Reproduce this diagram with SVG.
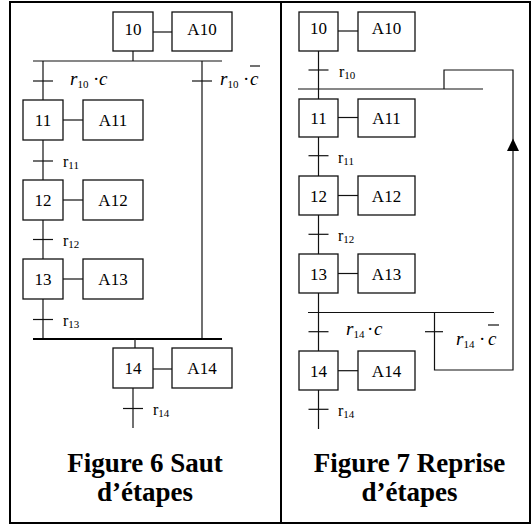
<svg xmlns="http://www.w3.org/2000/svg" width="532" height="525" viewBox="0 0 532 525">
<style>
  .frame{fill:none;stroke:#000;stroke-width:2}
  .box{fill:#fff;stroke:#111;stroke-width:1.3}
  .ln{fill:none;stroke:#111;stroke-width:1.2}
  .bar2{fill:none;stroke:#000;stroke-width:2.2}
  text{font-family:"Liberation Serif","Times New Roman",serif;fill:#000}
  .num{font-size:17px;text-anchor:middle}
  .lbl{font-size:16px}
  .sub{font-size:11px}
  .it{font-size:19px;font-style:italic}
  .cap{font-size:27px;font-weight:bold;text-anchor:middle}
</style>
<rect class="frame" x="10" y="2" width="520" height="521"/>
<line class="frame" x1="281" y1="2" x2="281" y2="523"/>

<!-- ========== Figure 6 ========== -->
<g id="connectors-fig6">
  <line class="ln" x1="153" y1="32" x2="172" y2="32"/>
  <line class="ln" x1="133" y1="51" x2="133" y2="61"/>
  <line class="ln" x1="33" y1="61" x2="222" y2="61"/>
  <line class="ln" x1="43" y1="61" x2="43" y2="100"/>
  <line class="ln" x1="33" y1="81" x2="53" y2="81"/>
  <line class="ln" x1="202" y1="61" x2="202" y2="339"/>
  <line class="ln" x1="192" y1="81" x2="212" y2="81"/>
  <line class="ln" x1="63" y1="120" x2="83" y2="120"/>
  <line class="ln" x1="43" y1="140" x2="43" y2="180"/>
  <line class="ln" x1="33" y1="161" x2="53" y2="161"/>
  <line class="ln" x1="63" y1="200" x2="83" y2="200"/>
  <line class="ln" x1="43" y1="220" x2="43" y2="259"/>
  <line class="ln" x1="33" y1="239.5" x2="53" y2="239.5"/>
  <line class="ln" x1="63" y1="279" x2="83" y2="279"/>
  <line class="ln" x1="43" y1="299" x2="43" y2="339"/>
  <line class="ln" x1="33" y1="319.5" x2="53" y2="319.5"/>
  <line class="bar2" x1="33" y1="339" x2="222" y2="339"/>
  <line class="ln" x1="135" y1="339" x2="135" y2="348"/>
  <line class="ln" x1="153" y1="369" x2="172" y2="369"/>
  <line class="ln" x1="133" y1="388" x2="133" y2="428"/>
  <line class="ln" x1="123" y1="408.5" x2="143" y2="408.5"/>
  <line class="ln" x1="250" y1="66" x2="260" y2="66"/>
</g>
<g id="f6-s10"><rect class="box" x="113" y="12" width="40" height="39"/><text class="num" x="133" y="34.5">10</text></g>
<g id="f6-a10"><rect class="box" x="172" y="12" width="60" height="39"/><text class="num" x="202" y="34.5">A10</text></g>
<g id="f6-s11"><rect class="box" x="23" y="100" width="40" height="40"/><text class="num" x="43" y="126">11</text></g>
<g id="f6-a11"><rect class="box" x="83" y="100" width="60" height="40"/><text class="num" x="113" y="126">A11</text></g>
<g id="f6-s12"><rect class="box" x="23" y="180" width="40" height="40"/><text class="num" x="43" y="206">12</text></g>
<g id="f6-a12"><rect class="box" x="83" y="180" width="60" height="40"/><text class="num" x="113" y="206">A12</text></g>
<g id="f6-s13"><rect class="box" x="23" y="259" width="40" height="40"/><text class="num" x="43" y="285">13</text></g>
<g id="f6-a13"><rect class="box" x="83" y="259" width="60" height="40"/><text class="num" x="113" y="285">A13</text></g>
<g id="f6-s14"><rect class="box" x="113" y="348" width="40" height="40"/><text class="num" x="133" y="374">14</text></g>
<g id="f6-a14"><rect class="box" x="172" y="348" width="60" height="40"/><text class="num" x="202" y="374">A14</text></g>
<g id="f6-labels">
  <text class="it" x="70" y="85">r<tspan class="sub" font-style="normal" dy="3">10</tspan><tspan font-style="normal" dy="-3" x="93">·</tspan><tspan x="99">c</tspan></text>
  <text class="it" x="220" y="85">r<tspan class="sub" font-style="normal" dy="3">10</tspan><tspan font-style="normal" dy="-3" x="243">·</tspan><tspan x="250">c</tspan></text>
  <text class="lbl" x="63" y="167">r<tspan class="sub" dy="2">11</tspan></text>
  <text class="lbl" x="63" y="245.5">r<tspan class="sub" dy="2">12</tspan></text>
  <text class="lbl" x="63" y="325.5">r<tspan class="sub" dy="2">13</tspan></text>
  <text class="lbl" x="153" y="414.5">r<tspan class="sub" dy="2">14</tspan></text>
</g>
<g id="f6-caption">
  <text class="cap" x="145" y="471.5">Figure 6 Saut</text>
  <text class="cap" x="145" y="501">d’étapes</text>
</g>

<!-- ========== Figure 7 ========== -->
<g id="connectors-fig7">
  <line class="ln" x1="338" y1="31" x2="358" y2="31"/>
  <line class="ln" x1="318.5" y1="51" x2="318.5" y2="99"/>
  <line class="ln" x1="308.5" y1="70" x2="328.5" y2="70"/>
  <line class="ln" x1="298" y1="89" x2="483" y2="89"/>
  <polyline class="ln" points="444,89 444,70 513,70 513,370 434.5,370 434.5,312.5"/>
  <polygon points="513,138.5 507,151 519,151" fill="#000"/>
  <line class="ln" x1="338" y1="117.5" x2="358" y2="117.5"/>
  <line class="ln" x1="318.5" y1="137" x2="318.5" y2="176"/>
  <line class="ln" x1="308.5" y1="155.7" x2="328.5" y2="155.7"/>
  <line class="ln" x1="338" y1="195.5" x2="358" y2="195.5"/>
  <line class="ln" x1="318.5" y1="215" x2="318.5" y2="254"/>
  <line class="ln" x1="308.5" y1="234.3" x2="328.5" y2="234.3"/>
  <line class="ln" x1="338" y1="273.5" x2="358" y2="273.5"/>
  <line class="ln" x1="318.5" y1="293" x2="318.5" y2="351"/>
  <line class="ln" x1="308" y1="312.5" x2="494" y2="312.5"/>
  <line class="ln" x1="308.5" y1="331.7" x2="328.5" y2="331.7"/>
  <line class="ln" x1="425" y1="331.7" x2="443" y2="331.7"/>
  <line class="ln" x1="338" y1="370.7" x2="358" y2="370.7"/>
  <line class="ln" x1="318.5" y1="390" x2="318.5" y2="429"/>
  <line class="ln" x1="308.5" y1="409.3" x2="328.5" y2="409.3"/>
  <line class="ln" x1="488" y1="325" x2="499" y2="325"/>
</g>
<g id="f7-s10"><rect class="box" x="299" y="12" width="39" height="39"/><text class="num" x="318.5" y="34">10</text></g>
<g id="f7-a10"><rect class="box" x="358" y="12" width="57" height="39"/><text class="num" x="386.5" y="34">A10</text></g>
<g id="f7-s11"><rect class="box" x="299" y="99" width="39" height="38"/><text class="num" x="318.5" y="123.5">11</text></g>
<g id="f7-a11"><rect class="box" x="358" y="99" width="57" height="38"/><text class="num" x="386.5" y="123.5">A11</text></g>
<g id="f7-s12"><rect class="box" x="299" y="176" width="39" height="39"/><text class="num" x="318.5" y="201.5">12</text></g>
<g id="f7-a12"><rect class="box" x="358" y="176" width="57" height="39"/><text class="num" x="386.5" y="201.5">A12</text></g>
<g id="f7-s13"><rect class="box" x="299" y="254" width="39" height="39"/><text class="num" x="318.5" y="279.5">13</text></g>
<g id="f7-a13"><rect class="box" x="358" y="254" width="57" height="39"/><text class="num" x="386.5" y="279.5">A13</text></g>
<g id="f7-s14"><rect class="box" x="299" y="351" width="39" height="39"/><text class="num" x="318.5" y="376.5">14</text></g>
<g id="f7-a14"><rect class="box" x="358" y="351" width="57" height="39"/><text class="num" x="386.5" y="376.5">A14</text></g>
<g id="f7-labels">
  <text class="lbl" x="339" y="77">r<tspan class="sub" dy="2">10</tspan></text>
  <text class="lbl" x="338" y="162.5">r<tspan class="sub" dy="2">11</tspan></text>
  <text class="lbl" x="338" y="241">r<tspan class="sub" dy="2">12</tspan></text>
  <text class="it" x="346" y="335">r<tspan class="sub" font-style="normal" dy="3">14</tspan><tspan font-style="normal" dy="-3" x="367">·</tspan><tspan x="374">c</tspan></text>
  <text class="it" x="456" y="345">r<tspan class="sub" font-style="normal" dy="3">14</tspan><tspan font-style="normal" dy="-3" x="479">·</tspan><tspan x="488">c</tspan></text>
  <text class="lbl" x="338" y="416">r<tspan class="sub" dy="2">14</tspan></text>
</g>
<g id="f7-caption">
  <text class="cap" x="409.5" y="471.5">Figure 7 Reprise</text>
  <text class="cap" x="409.5" y="501">d’étapes</text>
</g>
</svg>
